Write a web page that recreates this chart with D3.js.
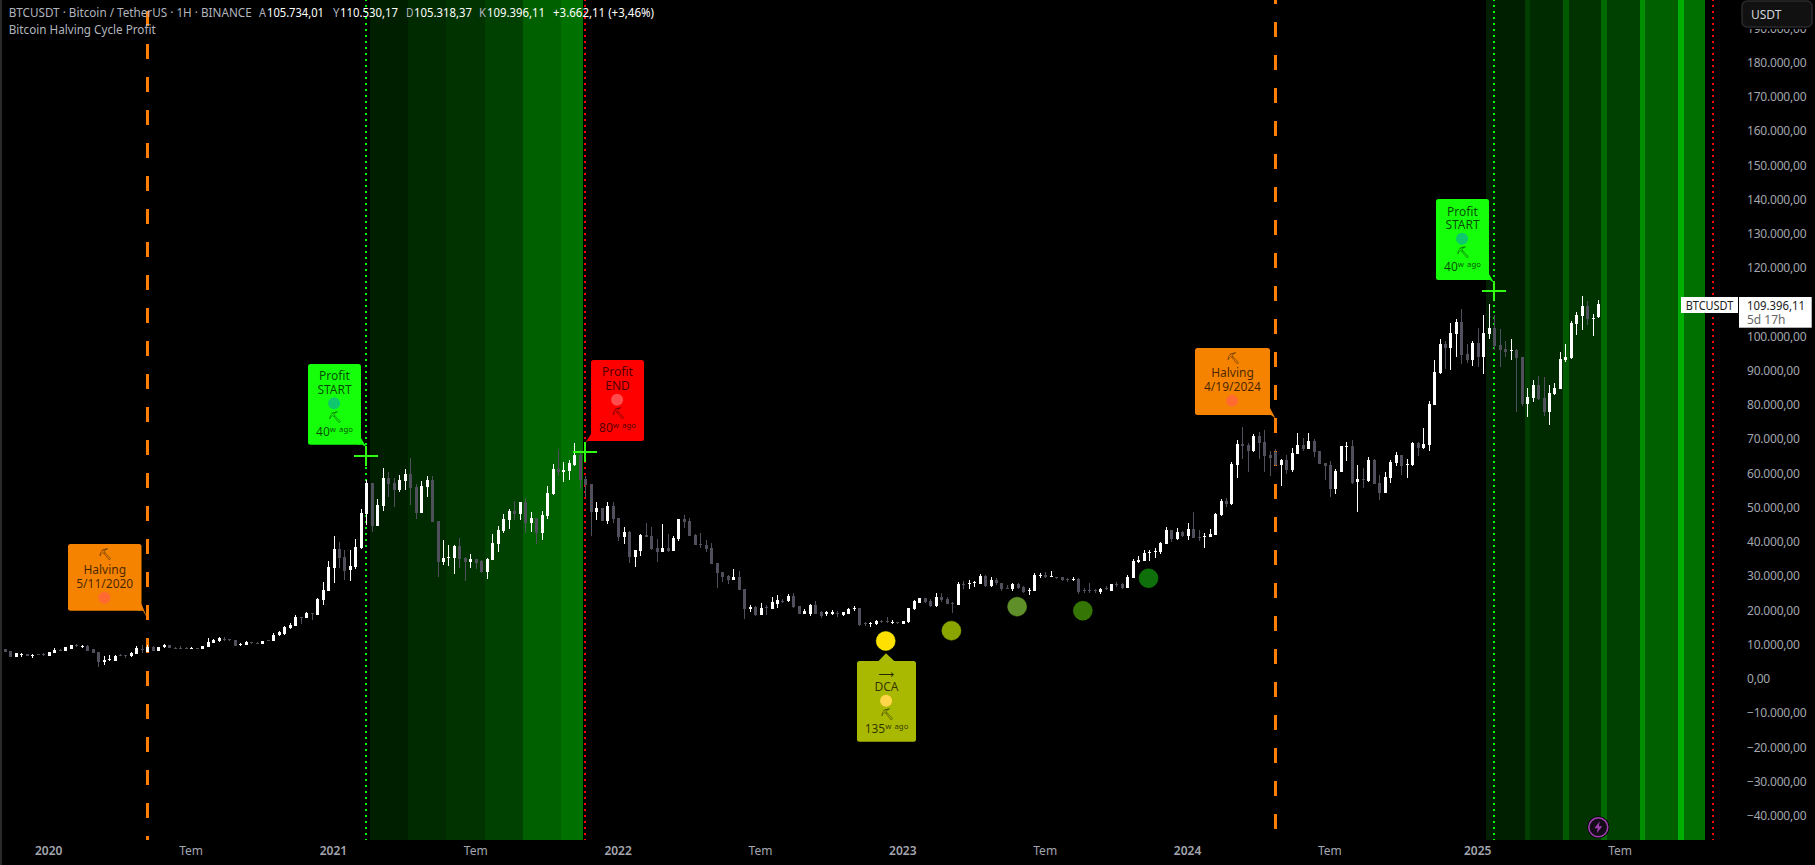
<!DOCTYPE html>
<html><head><meta charset="utf-8">
<script src="https://cdn.jsdelivr.net/npm/d3@7"></script>
<style>
html,body{margin:0;padding:0;background:#000;overflow:hidden}
svg{display:block}
text{font-family:"Noto Sans",sans-serif}
.pick{font-family:"DejaVu Sans",sans-serif}
</style></head><body>
<div id="chart"></div>
<script>
// Weekly candles, first bar 2019-11-11
const opens=[8700,8110,6460,6850,7240,6650,7240,7140,6750,7630,
8410,8210,8700,9870,9380,9670,8600,7720,4900,5390,
5290,7040,7040,6650,7340,8800,7920,9380,8210,9180,
9770,9090,9090,8990,8800,8890,8800,9380,10450,11130,
11710,11520,11330,9870,9960,10740,10550,10260,11330,11130,
12780,13080,14830,15510,18040,17850,19120,18720,23010,25730,
32350,37800,35570,31870,32550,38100,48130,57090,44630,50470,
58650,57090,55140,57770,59820,56020,48430,56020,58060,46090,
34120,35280,35280,38790,35280,34120,34990,34310,31190,34700,
39370,43170,46380,48910,48130,51640,45500,46970,42580,47550,
53970,61280,60400,60690,62440,65360,58350,56900,48720,49890,
46090,50470,46970,41420,42880,35580,37330,42000,41710,38200,
37040,38210,37430,40740,46780,46090,42000,39380,39080,38210,
33830,31200,30030,28860,29740,26320,20290,20870,18730,20870,
20390,21850,22820,22630,24280,21360,18930,18930,21460,19510,
18930,18830,19320,18630,18930,20290,20680,16200,16010,16010,
16980,16790,16400,16590,16100,16490,20290,22040,23500,22630,
21170,23790,23310,22240,21560,27790,27600,27890,27690,30030,
27110,28860,28080,26430,26230,27600,26720,25650,25650,30130,
30420,29840,29840,29640,29060,28860,29150,25940,25940,25840,
25460,26430,25750,27790,27690,26620,29540,34120,34510,36650,
37140,37040,39470,43370,40840,42780,41810,43760,41520,41420,
41420,41990,47730,51920,51040,62430,68660,68270,66420,70900,
69050,65350,66330,62430,63890,60970,65740,68270,67100,69440,
66420,63020,62430,55420,60390,67790,67980,57470,58340,57760,
63890,57170,54250,58630,63020,65350,62530,62430,68860,67400,
68270,79950,89300,97770,96600,100690,104190,94850,93100,98060,
93970,100690,102440,97480,96310,95820,96020,93970,80250,82000,
85800,82000,77910,83170,84630,93100,93680,103610,105950,108870,
105170,105734];
const highs=[8800,8200,7630,7630,7330,7240,7240,7430,7920,8990,
8600,9280,9960,10160,9870,9770,8600,7720,6650,6850,
6950,7140,7040,7720,9570,9870,9870,9570,9380,10160,
9870,9380,9570,9180,9380,9090,9670,11910,11620,12100,
12300,11710,11330,10550,11040,10740,10840,11130,11420,13270,
14000,15510,16190,18630,18040,19500,19120,23690,28360,34400,
41700,39850,37610,37610,40730,49580,58060,57090,52420,61570,
60400,58550,59520,61280,64490,56900,57770,59230,59230,46090,
40540,39080,39080,41120,35580,36450,34990,34700,35280,42290,
44630,48130,49590,51930,51640,52810,48720,46970,49010,56310,
62740,66830,63320,63900,68870,66830,59230,56900,51640,49890,
51640,51640,46970,44340,43170,37620,42290,45500,44340,40830,
45220,42300,41810,46680,47850,46970,42300,42590,40540,39670,
33830,31200,30320,32070,31490,26320,21460,21260,22040,21460,
23990,24480,23400,24770,24960,21360,20390,21850,22630,19900,
19900,20000,19710,19610,20580,21260,20680,16690,16590,17080,
17170,17950,17080,16590,16880,20780,23020,23600,23700,23210,
25160,25160,23790,22530,28170,28570,28710,28570,30520,30230,
29640,29350,28080,27300,27890,28080,27010,26430,31000,31000,
31100,31390,29840,29640,29540,29840,29350,26430,27990,26140,
26430,27210,27800,28180,27890,30230,35000,35970,37530,37620,
38110,39960,44240,43370,43950,43170,45410,48620,43370,42490,
43760,48520,52500,52700,63400,69730,73530,68760,71480,72170,
72650,66620,67100,64090,65350,67400,71680,70220,71680,70020,
66420,63020,63600,61260,67980,69050,69730,62430,61550,64770,
64180,59510,60390,63890,66230,65350,64180,69150,69150,73240,
81120,93100,99230,98650,103900,105070,107990,97770,98650,102440,
106240,109450,106240,102150,98650,99230,96310,93970,84920,87260,
88420,88130,85800,86380,95430,97770,104490,107110,111790,110330,
106530,110530];
const lows=[7900,6450,6360,6460,6750,6170,6950,6750,6750,7530,
8110,8210,8700,9380,9090,8210,7630,3540,4030,5290,
5190,6650,6170,6460,7240,7630,7720,8210,8210,8990,
8890,8800,8700,8800,8700,8800,8800,9280,10350,10740,
11130,11030,9670,9570,9870,10060,10060,10160,11130,11030,
12590,12880,14630,15410,16090,17650,17260,18630,21550,25640,
28070,32260,28850,28650,32160,37800,44920,42970,44630,49010,
53200,50280,54560,55140,50760,46670,48430,53000,45800,29730,
33240,32950,30610,32360,28570,32360,32070,30900,29150,34700,
37040,42580,43650,46380,46380,42580,42880,39370,40540,46670,
53680,59230,57480,58060,62150,55430,53100,41710,46380,46090,
45210,45500,40250,39370,33820,32650,35870,41420,37620,34120,
37040,37040,37430,40350,44050,41710,39080,38210,37040,33540,
26530,28280,27690,28860,25940,17560,19610,18340,18540,18630,
20390,20580,22240,22430,20580,18930,18930,18440,18930,17860,
18340,18730,18150,18340,18930,19710,15420,15330,15130,15620,
16200,16200,16100,16010,16000,16400,20190,22000,22240,21070,
20970,22430,21850,19320,21560,26230,26230,26920,27600,26920,
26920,27300,25650,26230,25750,26230,24970,24580,25650,29350,
29350,29840,29060,28570,28180,28570,24770,25160,25160,25160,
24770,25940,25750,26920,26230,26620,29540,33830,34410,34510,
35380,36460,39380,40060,40450,41320,40540,41220,40150,38310,
41420,41900,47540,50260,50850,58630,64180,60390,66230,64180,
60390,59320,62140,56300,59800,60390,65640,66520,67100,64770,
62720,58050,53090,53960,60390,63600,56880,48700,55710,57470,
56880,52210,54250,57170,62140,59510,58630,62140,65060,67100,
66520,79950,89010,90470,90180,93970,91930,92220,91340,91150,
89010,99230,96020,91050,93970,93100,77910,79660,76450,80830,
81410,76740,74110,82870,84630,92510,93390,100400,101860,103320,
100110,105318];
const closes=[7920,6460,7430,7240,6750,7040,6950,6950,7920,8500,
8310,9180,9870,9670,9570,8210,7630,5000,5490,5680,
6650,6650,6750,7430,8890,8410,9380,8210,9380,9870,
8890,8800,8800,8800,8990,8800,9670,10840,11420,11810,
11420,11330,9670,10160,10840,10550,10350,11040,11130,12880,
13560,15120,15610,18140,17850,19120,18920,23300,25930,32550,
37800,35370,31580,32840,38390,48320,57280,44630,50760,58650,
56900,55140,58060,59820,55730,48430,56310,58060,45800,34120,
35280,35580,38790,34990,34120,34990,33820,31190,34990,39660,
43460,46670,49010,48130,51640,45500,46970,42580,47840,54270,
61280,60400,60980,63030,65360,58060,56600,48720,49890,46090,
50470,46670,41420,42880,35580,37620,42000,41420,37910,37040,
38210,37230,41220,46680,45800,41710,39080,38990,37920,33540,
30910,29740,28860,29740,25940,20290,20870,18630,20580,20580,
22430,23020,22630,24180,21070,18930,19900,21560,18930,18340,
19410,19610,19120,19410,20480,20680,15710,15910,16200,16880,
16690,16590,16690,16400,16880,20780,22630,23500,22330,21260,
23790,23020,21850,22040,27790,27500,27890,28180,30030,27210,
28860,27890,26230,26230,27690,26430,25260,25940,30320,30420,
29840,30030,29640,28860,28860,29150,25460,25650,25650,25550,
26140,26230,27690,27400,26620,29840,34410,34800,36750,37140,
37330,39670,43370,40740,42780,41620,43760,41220,41220,41710,
42300,48130,52020,51040,62630,68660,68080,66520,70900,68950,
65060,64570,62330,63800,60970,65840,68270,67100,69440,66230,
62720,62240,55420,60680,67980,67980,57170,58340,58050,63890,
56880,54250,58930,63310,65350,62140,62720,68860,67400,68560,
80250,89590,97770,96600,100980,104190,94560,93100,98060,93880,
100980,102440,97190,96020,95430,96020,93680,80250,82290,85800,
81610,77910,83460,84920,93390,93970,103900,106240,108870,105070,
105360,109396];

// Axis labels
const priceTicks=[190000,180000,170000,160000,150000,140000,130000,120000,110000,100000,90000,80000,70000,60000,50000,40000,30000,20000,10000,0,-10000,-20000,-30000,-40000];
const timeTickBars=[8,34,60,86,112,138,164,190,216,242,269,295];
const timeTickLabels=["2020","Tem","2021","Tem","2022","Tem","2023","Tem","2024","Tem","2025","Tem"];

// Event positions, in bar numbers
const halvingBars=[26,232];
const profitStartBars=[66,272];
const profitEndBars=[106,312];

// Profit-zone shading: bar edges and colours
const zoneA=[66.6,73.55,80.55,87.6,94.6,101.55,105.6];
const zoneAColors=["#001f00","#002a00","#003300","#004000","#006000","#007000"];
const zoneB=[270.5,277.6,278.5,284.6,285.6,291.5,292.6,298.6,299.5,305.6,306.7,310.5];
const zoneBColors=["#001f00","#003f00","#002a00","#005a00","#003300","#006a00","#004000","#008f00","#006000","#00b000","#007000"];

// Cross marks (bar, price) and DCA score dots (bar, price)
const crossBars=[66,106,272];
const crossPrices=[65070,66330,113350];
const dotBars=[161,173,185,197,209];
const dotPrices=[11040,14050,21060,19890,29350];
const dotColors=["#ffe000","#8aa400","#5f8f28","#357505","#0f6f0a"];

const W=1815,H=865,bottom=840;
const x=d3.scaleLinear().domain([0,291]).range([5,1598.3]);
const y=d3.scaleLinear().domain([-40000,180000]).range([815.7,62.5]);
const priceFmt=d3.formatLocale({decimal:",",thousands:".",grouping:[3],currency:["",""],minus:"\u2212"}).format(",.2f");

const svg=d3.select("#chart").append("svg").attr("width",W).attr("height",H).style("background","#000");
svg.append("rect").attr("width",2).attr("height",H).attr("fill","#2a2a2a");

// shading
function zones(edges,colors){
  svg.append("g").attr("shape-rendering","crispEdges").selectAll("rect").data(colors).join("rect")
    .attr("x",(d,i)=>Math.round(x(edges[i])))
    .attr("width",(d,i)=>Math.round(x(edges[i+1]))-Math.round(x(edges[i])))
    .attr("y",0).attr("height",bottom).attr("fill",d=>d);
}
zones(zoneA,zoneAColors);
zones(zoneB,zoneBColors);

// vertical lines
function vline(bar,color,w,dash,offset){
  svg.append("line").attr("x1",Math.round(x(bar))).attr("x2",Math.round(x(bar))).attr("y1",0).attr("y2",bottom)
    .attr("stroke",color).attr("stroke-width",w).attr("stroke-dasharray",dash).attr("stroke-dashoffset",offset)
    .attr("shape-rendering","crispEdges");
}
profitStartBars.forEach(b=>vline(b,"#00ff00",2,"2 4",1));
profitEndBars.forEach(b=>vline(b,"#ff0000",2,"2 4",1));
vline(halvingBars[0],"#ff8000",3,"15 18",22.33);
vline(halvingBars[1],"#ff8000",3,"15 18",11);

// candles
const idx=d3.range(opens.length);
const up=i=>closes[i]>=opens[i];
const candleColor=i=>up(i)?"#ffffff":"#50505c";
const gc=svg.append("g").attr("shape-rendering","crispEdges");
gc.selectAll("line").data(idx).join("line")
  .attr("x1",i=>Math.round(x(i))+0.5).attr("x2",i=>Math.round(x(i))+0.5)
  .attr("y1",i=>y(highs[i])).attr("y2",i=>y(lows[i])).attr("stroke",candleColor).attr("stroke-width",1);
gc.selectAll("rect").data(idx).join("rect")
  .attr("x",i=>Math.round(x(i))-1).attr("width",3)
  .attr("y",i=>y(Math.max(opens[i],closes[i])))
  .attr("height",i=>Math.max(1,Math.abs(y(opens[i])-y(closes[i]))))
  .attr("fill",candleColor);

// DCA dots
svg.append("g").selectAll("circle").data(dotBars).join("circle")
  .attr("cx",d=>x(d)-0.8).attr("cy",(d,i)=>y(dotPrices[i])).attr("r",9.5)
  .attr("fill",(d,i)=>dotColors[i]).attr("stroke",(d,i)=>d3.color(dotColors[i]).brighter(0.4)).attr("stroke-opacity",.5);

// labels
function label(o){
  const g=svg.append("g");
  g.append("rect").attr("x",o.x0).attr("y",o.y0).attr("width",o.x1-o.x0).attr("height",o.y1-o.y0).attr("rx",2.5).attr("fill",o.color);
  g.append("polygon").attr("points",o.tail.map(p=>p.join(",")).join(" ")).attr("fill",o.color);
  const cx=(o.x0+o.x1)/2;
  o.rows.forEach(r=>{
    if(r.dot){g.append("circle").attr("cx",cx-0.4).attr("cy",r.y).attr("r",6).attr("fill",r.dot);return;}
    g.append("text").attr("class",r.pick?"pick":null).attr("x",cx).attr("y",r.y).attr("text-anchor","middle")
      .attr("dominant-baseline","central").attr("font-size",r.pick?11:12).attr("fill","#000").attr("fill-opacity",r.pick?.8:.72).text(r.t);
  });
}
const PICK="\u26CF";
label({x0:308,x1:361,y0:364,y1:444.7,color:"#16ff0a",tail:[[361,438],[366.3,447],[362,444.7],[358,444.7]],
  rows:[{t:"Profit",y:375.7},{t:"START",y:389.7},{dot:"#0fc86e",y:403.3},{t:PICK,pick:1,y:417},{t:"40\u02B7 \u1D43\u1D4D\u1D52",y:431}]});
label({x0:591,x1:644,y0:360,y1:441,color:"#ff0000",tail:[[591,434],[585,443.5],[587.5,441],[594,441]],
  rows:[{t:"Profit",y:371.7},{t:"END",y:385.7},{dot:"#ff4d4d",y:399.7},{t:PICK,pick:1,y:413},{t:"80\u02B7 \u1D43\u1D4D\u1D52",y:427}]});
label({x0:68,x1:141.5,y0:544,y1:610.7,color:"#f58300",tail:[[141.5,604],[147.5,618.5],[143,610.7],[138,610.7]],
  rows:[{t:PICK,pick:1,y:554.5},{t:"Halving",y:569.6},{t:"5/11/2020",y:583.7},{dot:"#ff6a30",y:597.7}]});
label({x0:1195,x1:1270,y0:348,y1:415,color:"#f58300",tail:[[1270,408],[1275.5,418.5],[1271,415],[1266,415]],
  rows:[{t:PICK,pick:1,y:358},{t:"Halving",y:372.7},{t:"4/19/2024",y:386.7},{dot:"#ff6a30",y:400.7}]});
label({x0:1436,x1:1489,y0:199,y1:280,color:"#16ff0a",tail:[[1489,274],[1494.3,283],[1490,280],[1486,280]],
  rows:[{t:"Profit",y:211},{t:"START",y:224.7},{dot:"#0fc86e",y:238.7},{t:PICK,pick:1,y:252.7},{t:"40\u02B7 \u1D43\u1D4D\u1D52",y:266}]});
label({x0:857,x1:916,y0:661,y1:741.7,color:"#a9b800",tail:[[878.6,661],[886,653.3],[894.3,661]],
  rows:[{t:"\u27F6",pick:1,y:674},{t:"DCA",y:686.7},{dot:"#ffd54a",y:700.7},{t:PICK,pick:1,y:714},{t:"135\u02B7 \u1D43\u1D4D\u1D52",y:728.3}]});

// crosses
const gx=svg.append("g").attr("stroke","#2eff10").attr("stroke-width",2).attr("shape-rendering","crispEdges");
crossBars.forEach((b,i)=>{
  const cx=Math.round(x(b)),cy=Math.round(y(crossPrices[i]));
  gx.append("line").attr("x1",cx-12).attr("x2",cx+12).attr("y1",cy).attr("y2",cy);
  gx.append("line").attr("x1",cx).attr("x2",cx).attr("y1",cy-10).attr("y2",cy+10);
});

// lightning badge
const bolt=svg.append("g").attr("transform","translate(1598.3,827.3)");
bolt.append("circle").attr("r",11).attr("fill","#000");
bolt.append("circle").attr("r",9.5).attr("fill","#140a18").attr("stroke","#a040b0").attr("stroke-width",1.6);
bolt.append("path").attr("d","M1.5,-6 L-4,1 L-0.5,1 L-1.5,6 L4,-1 L0.5,-1 Z").attr("fill","#a040b0");

// axes
const axisColor="#a3a6af";
const yAxis=d3.axisRight(y).tickValues(priceTicks).tickFormat(priceFmt).tickSize(0).tickPadding(0);
const gy=svg.append("g").attr("transform","translate(1747,0)").call(yAxis);
gy.select(".domain").remove();
gy.selectAll("text").attr("font-size",12).attr("letter-spacing","-0.2px").attr("fill",axisColor).attr("font-family",'"Noto Sans",sans-serif').attr("text-anchor","start");

const xAxis=d3.axisBottom(x).tickValues(timeTickBars).tickFormat((d,i)=>timeTickLabels[i]).tickSize(0).tickPadding(0);
const gxa=svg.append("g").attr("transform","translate(-0.6,846)").call(xAxis);
gxa.select(".domain").remove();
gxa.selectAll("text").attr("font-size",12).attr("fill",axisColor).attr("font-family",'"Noto Sans",sans-serif')
  .attr("font-weight",(d,i)=>/^\d/.test(timeTickLabels[i])?600:400);

// USDT button, with a black strip that hides the upper part of the top tick
svg.append("rect").attr("x",1741).attr("y",0).attr("width",74).attr("height",29).attr("fill","#000");
svg.append("rect").attr("x",1742).attr("y",1).attr("width",70).attr("height",26).attr("rx",5).attr("fill","#111111").attr("stroke","#2a2a2e").attr("stroke-width",1.5);
svg.append("text").attr("x",1751).attr("y",14.5).attr("dominant-baseline","central").attr("font-size",12).attr("fill","#d1d4dc").text("USDT");

// last price tag
svg.append("rect").attr("x",1681).attr("y",297).attr("width",57).attr("height",16).attr("fill","#fff");
svg.append("rect").attr("x",1739).attr("y",297).attr("width",72.7).attr("height",30.7).attr("fill","#fff");
svg.append("text").attr("x",1685.7).attr("y",305).attr("dominant-baseline","central").attr("font-size",12).attr("fill","#222").attr("textLength",47.6).attr("lengthAdjust","spacingAndGlyphs").text("BTCUSDT");
svg.append("text").attr("x",1747).attr("y",305).attr("dominant-baseline","central").attr("font-size",12).attr("fill","#222").attr("textLength",58).attr("lengthAdjust","spacingAndGlyphs").text("109.396,11");
svg.append("text").attr("x",1747).attr("y",319).attr("dominant-baseline","central").attr("font-size",12).attr("fill","#666").text("5d 17h");

// header: [left, middle, text, colour, width]
const hdr=[
 [8.7,12,"BTCUSDT \u00B7 Bitcoin / TetherUS \u00B7 1H \u00B7 BINANCE","#b2b5be",243],
 [259,12,"A","#b2b5be",7],[267,12,"105.734,01","#fff",57],
 [333,12,"Y","#b2b5be",6.5],[340,12,"110.530,17","#fff",58],
 [406,12,"D","#b2b5be",7.5],[414,12,"105.318,37","#fff",58],
 [479,12,"K","#b2b5be",7],[487,12,"109.396,11","#fff",58],
 [553,12,"+3.662,11 (+3,46%)","#fff",101],
 [8.7,29,"Bitcoin Halving Cycle Profit","#b2b5be",147]];
svg.append("g").selectAll("text").data(hdr).join("text")
  .attr("x",d=>d[0]).attr("y",d=>d[1]).attr("dominant-baseline","central").attr("font-size",12)
  .attr("textLength",d=>d[4]).attr("lengthAdjust","spacingAndGlyphs")
  .attr("fill",d=>d[3]).text(d=>d[2]);
</script>
</body></html>
